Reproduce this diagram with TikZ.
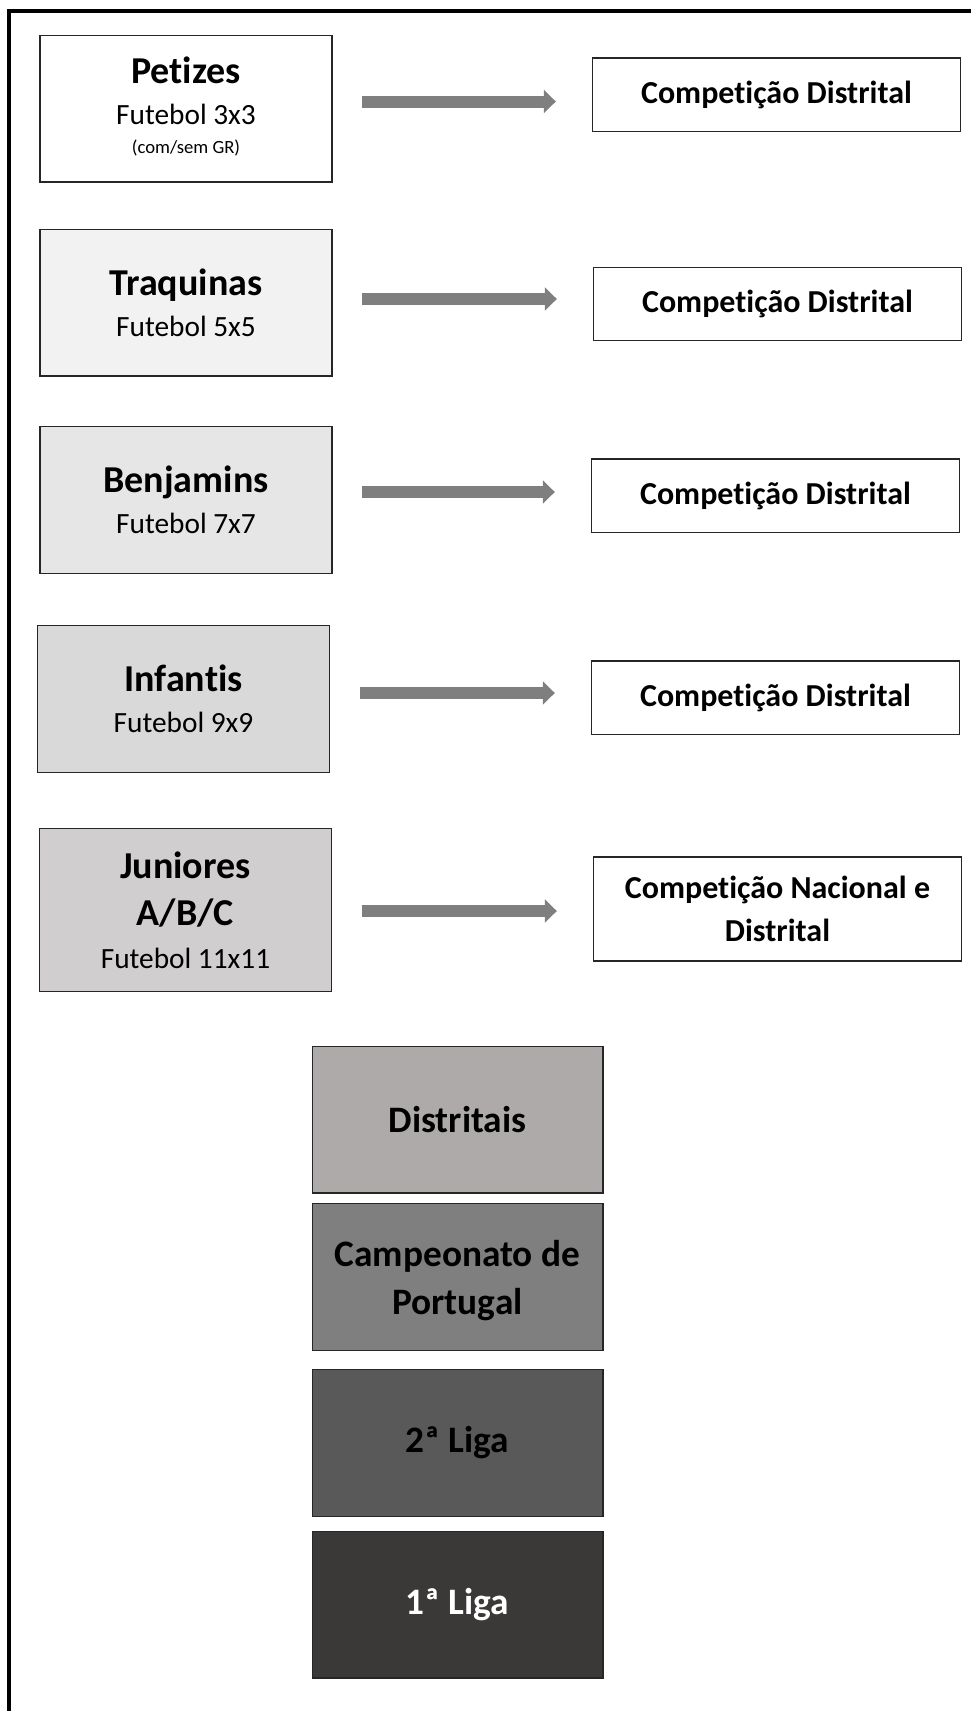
\documentclass[tikz,border=0pt]{standalone}
\usepackage{fontspec}
\setmainfont{Carlito}[Ligatures={NoCommon,NoRequired,NoContextual}, Contextuals=NoAlternate, RawFeature={-liga;-clig;-dlig;-calt}]
\usetikzlibrary{arrows.meta}
\definecolor{cinzaA}{HTML}{F2F2F2}
\definecolor{cinzaB}{HTML}{E7E6E6}
\definecolor{cinzaC}{HTML}{D9D9D9}
\definecolor{cinzaD}{HTML}{D0CECE}
\definecolor{cinzaE}{HTML}{AEAAAA}
\definecolor{cinzaF}{HTML}{7F7F7F}
\definecolor{cinzaG}{HTML}{595959}
\definecolor{cinzaH}{HTML}{3B3838}
\newcommand{\tit}{\fontsize{28.5}{36}\selectfont\bfseries}
\newcommand{\fut}{\fontsize{22}{36}\selectfont}
\newcommand{\gr}{\fontsize{14}{36}\selectfont}
\newcommand{\comp}{\fontsize{24}{32}\selectfont\bfseries}
\tikzset{
    escalao/.style={draw=black!85, line width=1pt, minimum width=219pt, minimum height=110pt, align=center, inner sep=0pt, font=\fontsize{22}{36}\selectfont},
    competicao/.style={draw=black!85, line width=1pt, minimum width=276pt, minimum height=55pt, align=center, inner sep=0pt, font=\fontsize{24}{32}\selectfont},
    divisao/.style={draw=black!85, line width=1pt, minimum width=218pt, minimum height=110pt, align=center, inner sep=0pt, font=\fontsize{28}{36}\selectfont\bfseries},
    seta/.style={draw=cinzaF, line width=9pt, -{Triangle[length=9pt, width=17pt]}, shorten <=22pt, shorten >=27pt}
}
\begin{document}
\begin{tikzpicture}[x=0.75pt, y=-0.75pt]
    \useasboundingbox (0,0) rectangle (971,1711);
    \draw[line width=2.3pt] (9,1711) -- (9,11) -- (971,11);
    \node[escalao, fill=white, text depth=5.5pt] (petizes) at (186,108.5) {{\tit Petizes}\\[-5.25pt]{\fut Futebol 3x3}\\[-14.25pt]{\gr (com/sem GR)}};
    \node[escalao, fill=cinzaA] (traquinas) at (186,302.5) {{\tit Traquinas}\\[-5pt]{\fut Futebol 5x5}};
    \node[escalao, fill=cinzaB] (benjamins) at (186,500) {{\tit Benjamins}\\[-5pt]{\fut Futebol 7x7}};
    \node[escalao, fill=cinzaC] (infantis) at (183.5,699) {{\tit Infantis}\\[-5pt]{\fut Futebol 9x9}};
    \node[escalao, fill=cinzaD, minimum height=122pt] (juniores) at (185.5,910) {{\tit Juniores}\\[-0.5pt]{\tit A/B/C}\\[-4pt]{\fut Futebol 11x11}};
    \node[competicao] (comp1) at (776.5,94.7) {\comp Competição Distrital};
    \node[competicao] (comp2) at (777.5,304) {\comp Competição Distrital};
    \node[competicao] (comp3) at (775.5,495.5) {\comp Competição Distrital};
    \node[competicao] (comp4) at (775.5,697.5) {\comp Competição Distrital};
    \node[competicao, minimum height=78pt] (comp5) at (777.5,909) {{\comp Competição Nacional e}\\{\comp Distrital}};
    \draw[seta] (petizes.east |- 0,101.5) -- (comp1.west |- 0,101.5);
    \draw[seta] (traquinas.east |- 0,299) -- (comp2.west |- 0,299);
    \draw[seta] (benjamins.east |- 0,492) -- (comp3.west |- 0,492);
    \draw[seta] (infantis.east |- 0,693) -- (comp4.west |- 0,693);
    \draw[seta] (juniores.east |- 0,911) -- (comp5.west |- 0,911);
    \node[divisao, fill=cinzaE] (distritais) at (457.5,1119.5) {Distritais};
    \node[divisao, fill=cinzaF, text depth=0pt] (campeonato) at (457.5,1277) {Campeonato de\\Portugal};
    \node[divisao, fill=cinzaG] (liga2) at (457.5,1443) {2ª Liga};
    \node[divisao, fill=cinzaH, text=white] (liga1) at (457.5,1604.5) {1ª Liga};
\end{tikzpicture}
\end{document}
